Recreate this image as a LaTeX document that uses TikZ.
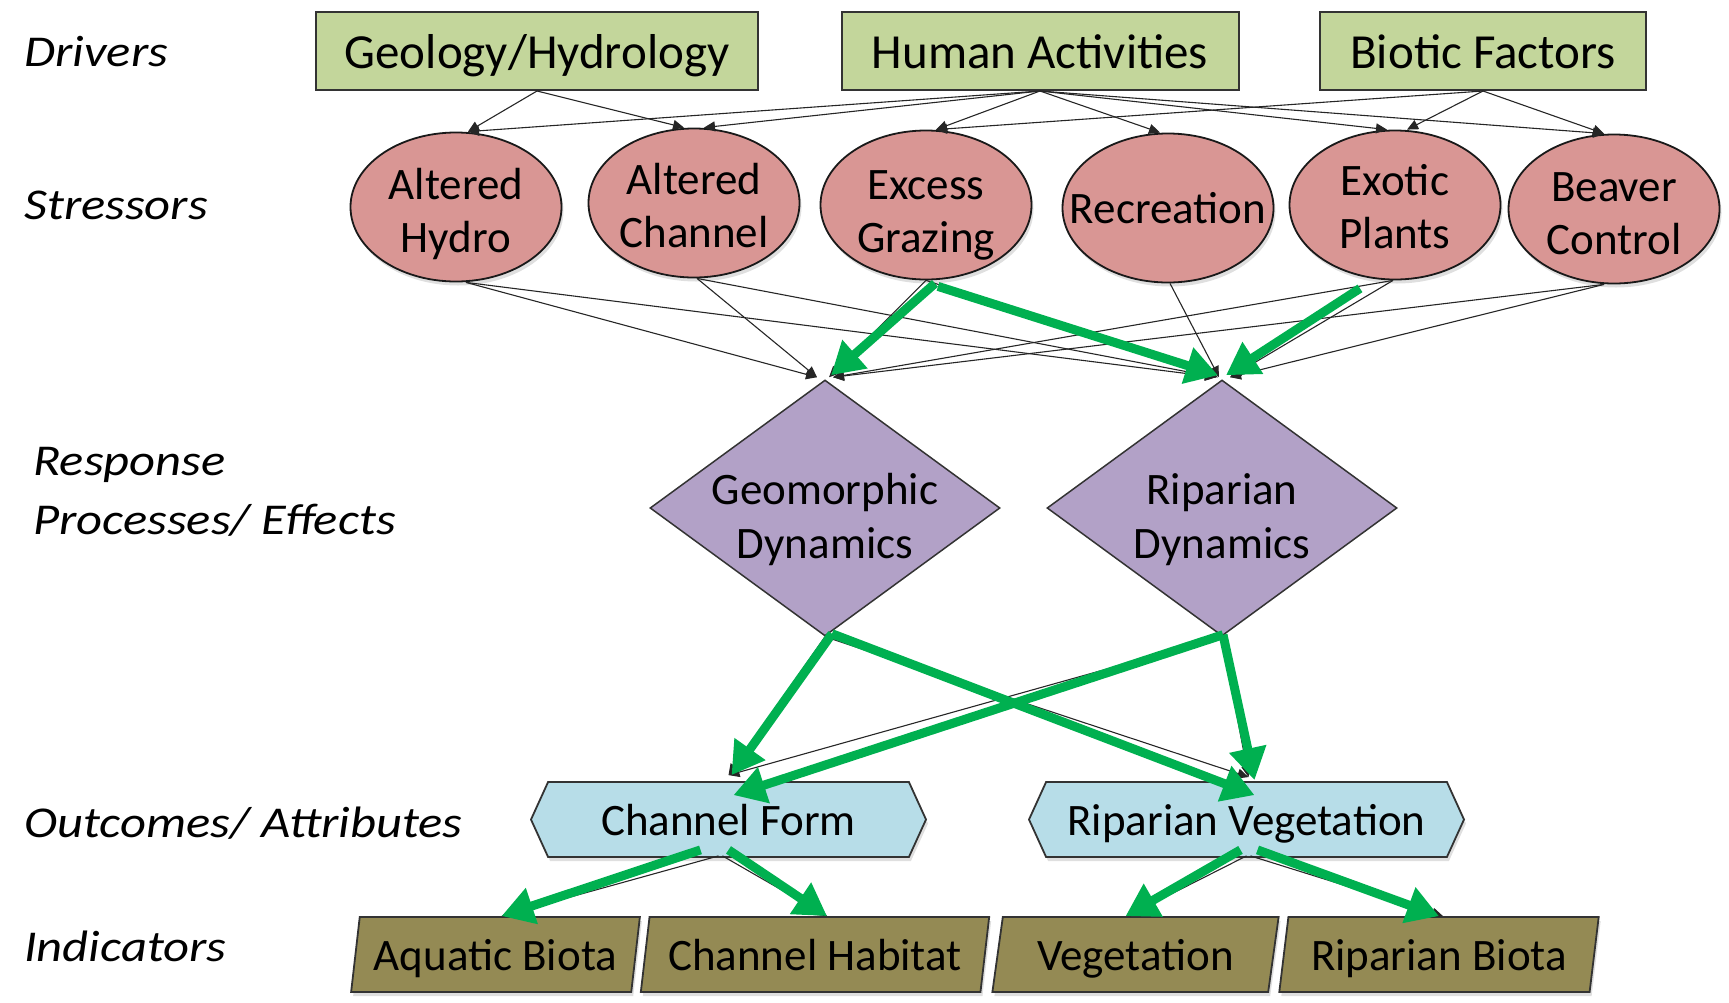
\documentclass[tikz,border=0pt]{standalone}
\usepackage{fontspec}
\setmainfont{Carlito}
\newfontfamily\labfont[FakeStretch=1.15]{Carlito}
\usetikzlibrary{shapes.geometric,shapes.symbols,arrows.meta,calc,shadows}

\definecolor{drvfill}{HTML}{C3D69B}
\definecolor{strfill}{HTML}{D99694}
\definecolor{resfill}{HTML}{B2A1C7}
\definecolor{outfill}{HTML}{B7DDE8}
\definecolor{indfill}{HTML}{948A54}
\definecolor{grn}{HTML}{00B050}
\definecolor{edgecol}{HTML}{333333}

\newcommand{\twoline}[3]{\raisebox{#1}[0pt][0pt]{\begin{tabular}{@{}c@{}}#2\\#3\end{tabular}}}

\tikzset{
 sh/.style={drop shadow={shadow xshift=2pt, shadow yshift=-4pt, opacity=0.25}},
 txt/.style={font=\fontsize{45}{53}\selectfont, text=black, align=center, inner sep=0pt},
 drv/.style={txt, rectangle, draw=edgecol, line width=2pt, fill=drvfill, minimum height=78pt, font=\fontsize{49}{58}\selectfont, text height=34pt, text depth=0pt},
 str/.style={txt, ellipse, draw=black!90, line width=1.8pt, fill=strfill, minimum width=211pt, minimum height=149pt, inner xsep=-25pt, sh},
 res/.style={txt, diamond, draw=edgecol, line width=1.5pt, fill=resfill, minimum width=350pt, minimum height=256pt, aspect=1.37, font=\fontsize{45}{54}\selectfont},
 outc/.style={txt, signal, signal to=east and west, signal pointer angle=131, draw=edgecol, line width=1.8pt, fill=outfill, minimum height=75pt, text height=31pt, text depth=0pt, sh},
 ind/.style={txt, trapezium, trapezium left angle=76, trapezium right angle=104, trapezium stretches=true, draw=edgecol, line width=1.8pt, fill=indfill, minimum height=75pt, text height=31pt, text depth=0pt, sh},
 lab/.style={font=\labfont\itshape\fontsize{44}{59}\selectfont, anchor=west, inner sep=0pt, align=left},
 thinarr/.style={draw=black!85, line width=1.1pt, -{Triangle[length=11pt,width=10pt]}},
 bigarr/.style={draw=grn, line width=9pt, -{Triangle[length=32pt,width=36pt]}},
}

\begin{document}
\begin{tikzpicture}[x=1pt,y=-1pt]
\useasboundingbox (0,0) rectangle (1729,1002);

% left labels
\node[lab] (lDrv) at (24,52) {Drivers};
\node[lab] (lStr) at (24,205) {Stressors};
\node[lab] (lRes) at (33,492) {Response\\Processes/ Effects};
\node[lab] (lOut) at (24,823) {Outcomes/ Attributes};
\node[lab] (lInd) at (24,946) {Indicators};

% drivers
\node[drv, minimum width=442pt] (geo) at (537,51) {Geology/Hydrology};
\node[drv, minimum width=397pt] (hum) at (1040,51) {Human Activities};
\node[drv, minimum width=326pt] (bio) at (1483,51) {Biotic Factors};

% stressors
\node[str] (ah) at (456,207) {\twoline{-15pt}{Altered}{Hydro}};
\node[str] (ac) at (694,203) {\twoline{-14pt}{Altered}{Channel}};
\node[str] (eg) at (926,205) {\twoline{-17pt}{Excess}{Grazing}};
\node[str] (rec) at (1168,208) {Recreation};
\node[str] (ep) at (1395,205) {\twoline{-13pt}{Exotic}{Plants}};
\node[str] (bc) at (1614,209) {\twoline{-15pt}{Beaver}{Control}};

% response
\node[res] (gd) at (825,508) {\twoline{-18.5pt}{Geomorphic}{Dynamics}};
\node[res] (rd) at (1222,508) {\twoline{-18.5pt}{Riparian}{Dynamics}};

% outcomes
\node[outc, minimum width=395pt] (cf) at (728.5,819.5) {Channel Form};
\node[outc, minimum width=435pt] (rv) at (1246.5,819.5) {Riparian Vegetation};

% indicators
\node[ind, minimum width=289pt] (aq) at (495.5,954.5) {Aquatic Biota};
\node[ind, minimum width=350pt] (ch) at (815,954.5) {Channel Habitat};
\node[ind, minimum width=287pt] (veg) at (1135.5,954.5) {Vegetation};
\node[ind, minimum width=320pt] (rb) at (1439,954.5) {Riparian Biota};

% thin connectors: drivers -> stressors
\draw[thinarr] (geo.south) -- ($(ah.north)+(12,0)$);
\draw[thinarr] (geo.south) -- ($(ac.north)+(-10,0)$);
\draw[thinarr] (hum.south) -- ($(ah.north)+(12,0)$);
\draw[thinarr] (hum.south) -- ($(ac.north)+(10,0)$);
\draw[thinarr] (hum.south) -- ($(eg.north)+(10,0)$);
\draw[thinarr] (hum.south) -- ($(rec.north)+(-8,0)$);
\draw[thinarr] (hum.south) -- ($(ep.north)+(-8,0)$);
\draw[thinarr] (hum.south) -- ($(bc.north)+(-10,0)$);
\draw[thinarr] (bio.south) -- ($(eg.north)+(10,0)$);
\draw[thinarr] (bio.south) -- ($(ep.north)+(12,0)$);
\draw[thinarr] (bio.south) -- ($(bc.north)+(-10,0)$);

% thin connectors: stressors -> response
\draw[thinarr] ($(ah.south)+(10,0)$) -- ($(gd.north)+(-8,-2)$);
\draw[thinarr] ($(ah.south)+(10,0)$) -- ($(rd.north)+(-6,-2)$);
\draw[thinarr] ($(ac.south)+(3,0)$) -- ($(gd.north)+(-8,-2)$);
\draw[thinarr] ($(ac.south)+(3,0)$) -- ($(rd.north)+(-6,-2)$);
\draw[thinarr] (eg.south) -- ($(gd.north)+(4,-2)$);
\draw[thinarr] (eg.south) -- ($(rd.north)+(-4,-2)$);
\draw[thinarr] ($(rec.south)+(2,0)$) -- ($(rd.north)+(-3,-2)$);
\draw[thinarr] ($(ep.south)+(-2,0)$) -- ($(gd.north)+(8,-2)$);
\draw[thinarr] ($(ep.south)+(-2,0)$) -- ($(rd.north)+(8,-2)$);
\draw[thinarr] ($(bc.south)+(-10,0)$) -- ($(gd.north)+(8,-2)$);
\draw[thinarr] ($(bc.south)+(-10,0)$) -- ($(rd.north)+(8,-2)$);

% thin connectors: response -> outcomes -> indicators
\draw[thinarr] (gd.south) -- ($(cf.north)+(0,-6)$);
\draw[thinarr] (gd.south) -- ($(rv.north)+(2,-4)$);
\draw[thinarr] (rd.south) -- ($(cf.north)+(0,-6)$);
\draw[thinarr] (rd.south) -- ($(rv.north)+(2,-4)$);
\draw[thinarr] ($(cf.south)+(-10,-2)$) -- ($(aq.north)+(6,0)$);
\draw[thinarr] ($(cf.south)+(-6,-2)$) -- ($(ch.north)+(12,0)$);
\draw[thinarr] ($(rv.south)+(0,-2)$) -- ($(veg.north)+(-8,0)$);
\draw[thinarr] ($(rv.south)+(4,-2)$) -- ($(rb.north)+(4,0)$);

% green arrows
\draw[bigarr] ($(eg.south)+(9,3)$) -- ($(gd.north)+(6,-4)$);
\draw[bigarr] ($(eg.south)+(12,6)$) -- ($(rd.north)+(-4,-4)$);
\draw[bigarr] ($(ep.south)+(-35,8)$) -- ($(rd.north)+(4,-4)$);
\draw[bigarr] ($(gd.south)+(7,-3)$) -- ($(cf.north)+(3,-6)$);
\draw[bigarr] ($(gd.south)+(7,-3)$) -- ($(rv.north)+(8,14)$);
\draw[bigarr] ($(rd.south)+(1,-2)$) -- ($(cf.north)+(5,14)$);
\draw[bigarr] ($(rd.south)+(1,-2)$) -- ($(rv.north)+(8,-1)$);
\draw[bigarr] ($(cf.south)+(-28,-8)$) -- ($(aq.north)+(6,0)$);
\draw[bigarr] ($(cf.south)+(0,-8)$) -- ($(ch.north)+(12,0)$);
\draw[bigarr] ($(rv.south)+(-6,-8)$) -- ($(veg.north)+(-10,0)$);
\draw[bigarr] ($(rv.south)+(11,-8)$) -- ($(rb.north)+(0,0)$);
\end{tikzpicture}
\end{document}
